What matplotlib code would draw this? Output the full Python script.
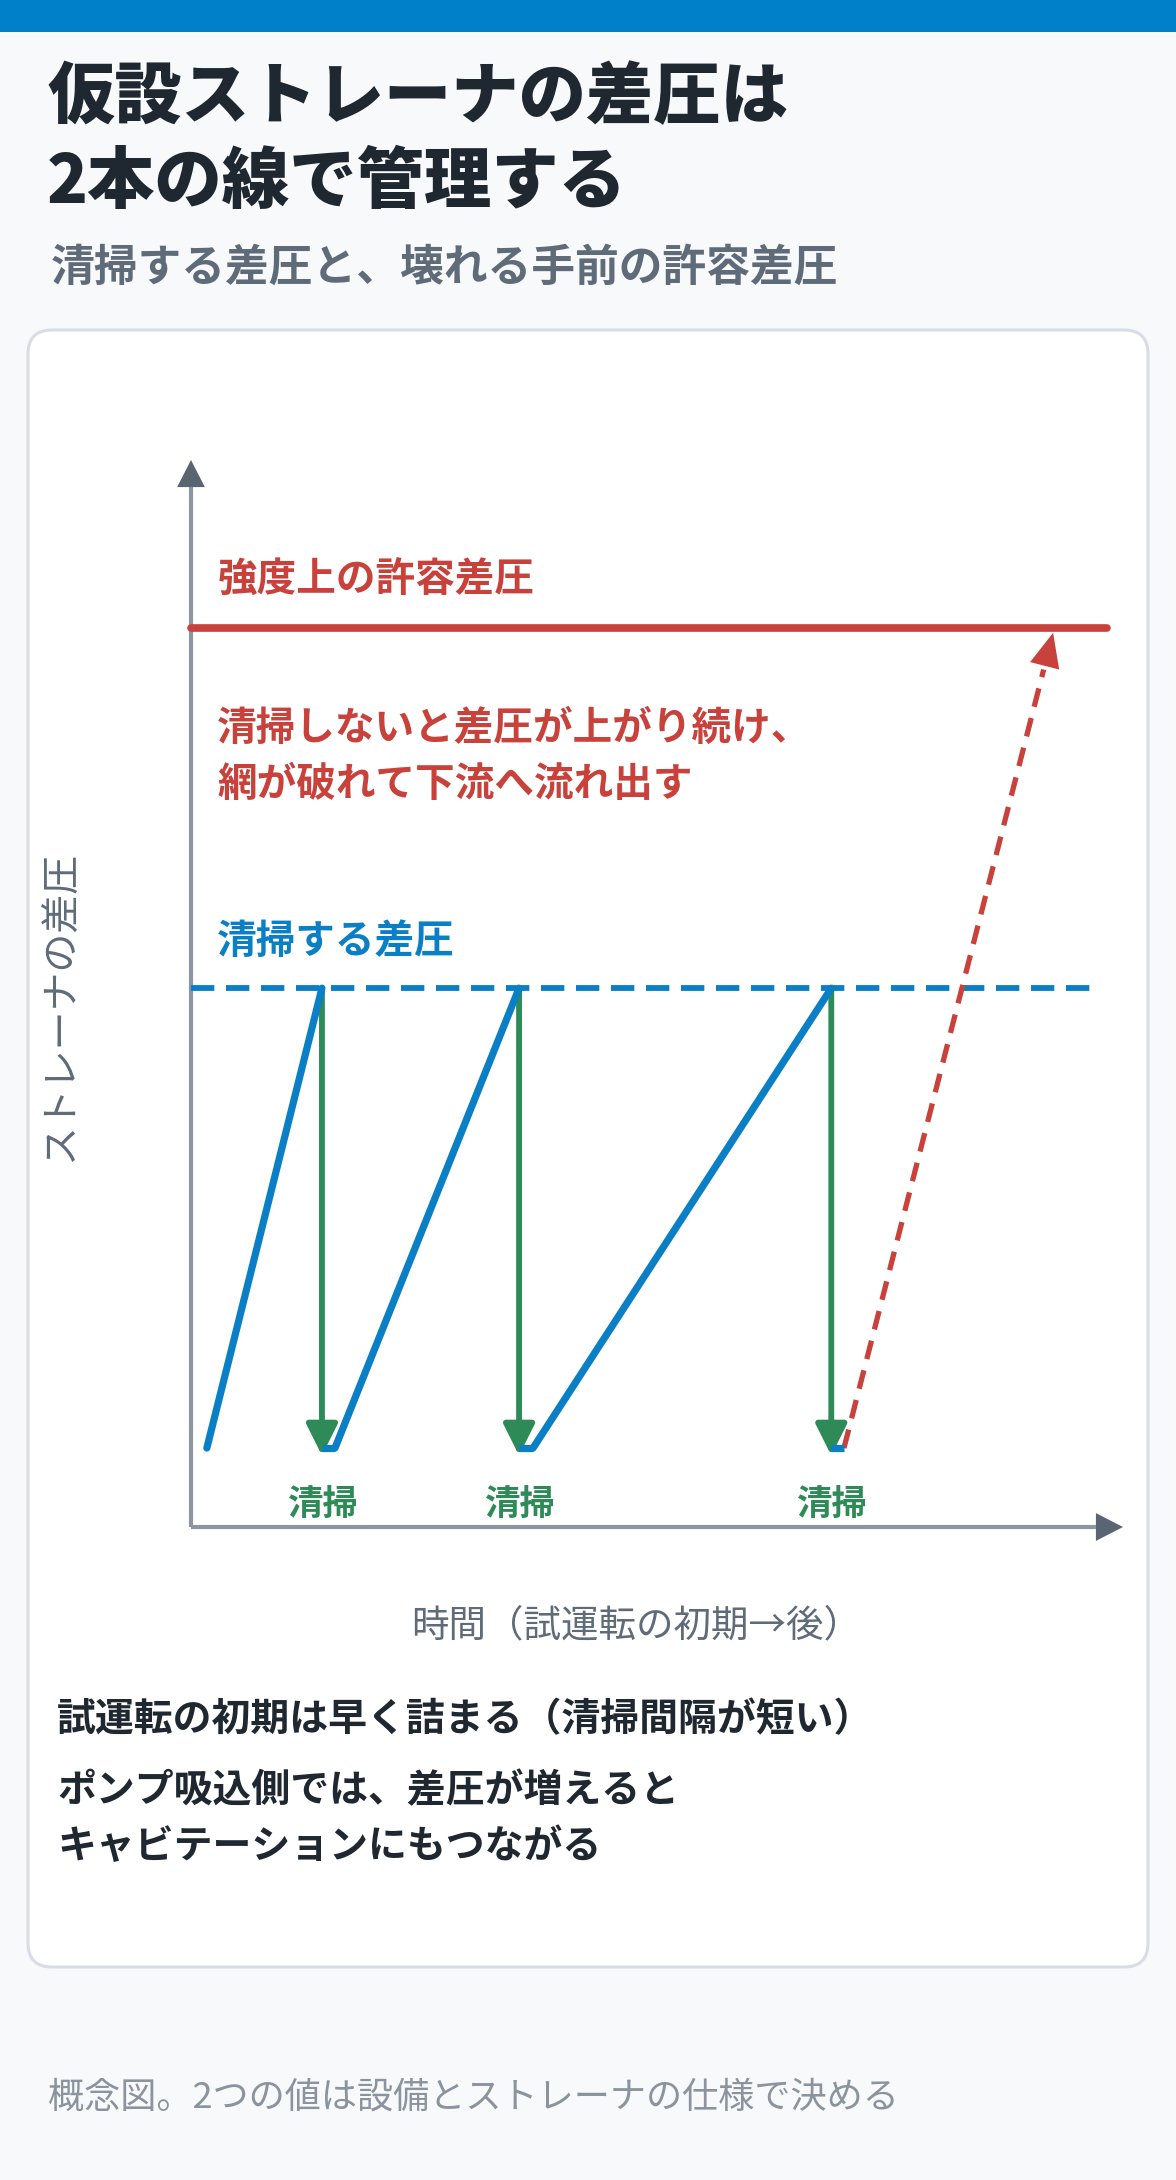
import matplotlib
matplotlib.use('Agg')
import matplotlib.pyplot as plt
from matplotlib.patches import FancyBboxPatch, Rectangle, FancyArrowPatch

plt.rcParams['font.family'] = ['Noto Sans CJK JP', 'DejaVu Sans']

# values (time units 0-10, pressure units 0-10)
rise_start_t = [0.17, 1.545, 3.67]
clean_t = [1.405, 3.52, 6.87]
last_restart_t = 7.006
base_dp = 0.74
clean_dp = 5.05
allow_dp = 8.43
overflow_tip = (9.25, 8.38)
line_end_clean = 9.72
line_end_allow = 9.83

title_lines = ['仮設ストレーナの差圧は', '2本の線で管理する']
subtitle = '清掃する差圧と、壊れる手前の許容差圧'
allow_label = '強度上の許容差圧'
overflow_note = ['清掃しないと差圧が上がり続け、', '網が破れて下流へ流れ出す']
clean_label = '清掃する差圧'
clean_mark = '清掃'
x_label = '時間（試運転の初期→後）'
y_label = 'ストレーナの差圧'
notes = ['試運転の初期は早く詰まる（清掃間隔が短い）',
         'ポンプ吸込側では、差圧が増えると',
         'キャビテーションにもつながる']
footnote = '概念図。2つの値は設備とストレーナの仕様で決める'

BLUE = '#0a7fc6'
RED = '#c8413b'
GREEN = '#2e8a57'
DARK = '#1f2731'
GRAY = '#5f6b78'
AXIS = '#8c96a3'
AXHEAD = '#5a6573'

W, H = 1176, 2180
fig = plt.figure(figsize=(W / 100, H / 100), dpi=100, facecolor='#f7f9fb')

# background layer in pixel coordinates
bg = fig.add_axes([0, 0, 1, 1])
bg.set_xlim(0, W)
bg.set_ylim(H, 0)
bg.axis('off')
bg.add_patch(Rectangle((0, 0), W, 32, color='#0080c8', lw=0))
bg.add_patch(FancyBboxPatch((28, 330), 1120, 1637, boxstyle='round,pad=0,rounding_size=24',
                            facecolor='white', edgecolor='#d6dde4', lw=2.2))

bg.text(47, 98, title_lines[0], fontsize=48.5, fontweight='black', color=DARK, va='center')
bg.text(47, 183, title_lines[1], fontsize=48.5, fontweight='black', color=DARK, va='center')
bg.text(51, 268, subtitle, fontsize=31.5, fontweight='bold', color=GRAY, va='center')

bg.text(61, 1006, y_label, fontsize=28, color=GRAY, rotation=90, ha='center', va='center')
bg.text(636, 1626, x_label, fontsize=27, color=GRAY, ha='center', va='center')

bg.text(57, 1720, notes[0], fontsize=28, fontweight='bold', color=DARK, va='center')
bg.text(57, 1791, notes[1], fontsize=28, fontweight='bold', color=DARK, va='center')
bg.text(57, 1846, notes[2], fontsize=28, fontweight='bold', color=DARK, va='center')
bg.text(48, 2098, footnote, fontsize=26, color='#8a939e', va='center')

# chart axes: origin at (191, 1527), extent to (1123, 460) px
ax = fig.add_axes([191 / W, 1 - 1527 / H, (1123 - 191) / W, (1527 - 460) / H])
ax.set_xlim(0, 10)
ax.set_ylim(0, 10)
ax.axis('off')
ax.patch.set_alpha(0)

# axes with arrow heads
ax.plot([0, 0], [0, 9.75], color=AXIS, lw=3, solid_capstyle='butt', clip_on=False)
ax.plot([0, 9.71], [0, 0], color=AXIS, lw=3, solid_capstyle='butt', clip_on=False)
for xy, xyt in [((0, 10), (0, 9.5)), ((10, 0), (9.5, 0))]:
    ax.add_patch(FancyArrowPatch(xyt, xy, arrowstyle='-|>,head_length=19.5,head_width=10',
                                 mutation_scale=1, color=AXHEAD, lw=0,
                                 shrinkA=0, shrinkB=0, clip_on=False))

# threshold lines
ax.plot([0, line_end_allow], [allow_dp, allow_dp], color=RED, lw=5.5,
        solid_capstyle='round', clip_on=False)
ax.plot([0, line_end_clean], [clean_dp, clean_dp], color=BLUE, lw=4.2,
        dashes=(4.0, 2.0), dash_capstyle='butt', clip_on=False)

ax.text(0.28, 8.87, allow_label, fontsize=28.5, fontweight='bold', color=RED, va='center')
ax.text(0.28, 7.48, overflow_note[0], fontsize=28.5, fontweight='bold', color=RED, va='center')
ax.text(0.28, 6.96, overflow_note[1], fontsize=28.5, fontweight='bold', color=RED, va='center')
ax.text(0.28, 5.49, clean_label, fontsize=28.5, fontweight='bold', color=BLUE, va='center')

# cleaning arrows
for t in clean_t:
    ax.add_patch(FancyArrowPatch((t, clean_dp), (t, base_dp - 0.07),
                                 arrowstyle='-|>,head_length=19,head_width=9.5',
                                 mutation_scale=1, color=GREEN, lw=4.2,
                                 shrinkA=0, shrinkB=0, zorder=3))
    ax.text(t, 0.21, clean_mark, fontsize=25.5, fontweight='bold', color=GREEN,
            ha='center', va='center')

# sawtooth of the differential pressure
for t0, t1 in zip(rise_start_t, clean_t):
    ax.plot([t0, t1], [base_dp, clean_dp], color=BLUE, lw=5.2,
            solid_capstyle='round', zorder=4)
for t1, t2 in zip(clean_t, rise_start_t[1:] + [last_restart_t]):
    ax.plot([t1, t2], [base_dp, base_dp], color=BLUE, lw=5.2,
            solid_capstyle='butt', zorder=4)

# no cleaning: pressure keeps rising to the allowable line
x0, y0 = last_restart_t, base_dp
x1, y1 = overflow_tip
f = 0.955
ax.plot([x0, x0 + f * (x1 - x0)], [y0, y0 + f * (y1 - y0)], color=RED, lw=3.8,
        dashes=(3.6, 2.2), dash_capstyle='butt', zorder=3)
ax.add_patch(FancyArrowPatch((x0 + 0.85 * (x1 - x0), y0 + 0.85 * (y1 - y0)), (x1, y1),
                             arrowstyle='-|>,head_length=24.5,head_width=10.8',
                             mutation_scale=1, color=RED, lw=0,
                             shrinkA=0, shrinkB=0, zorder=3))

fig.savefig('out.png', dpi=100, facecolor=fig.get_facecolor())
